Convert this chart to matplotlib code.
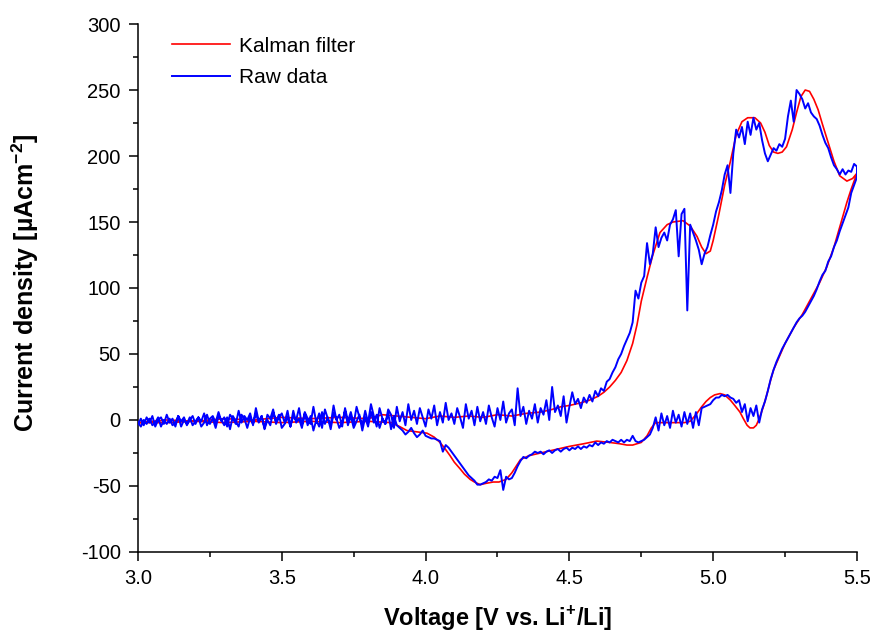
import numpy as np
import matplotlib
matplotlib.use("Agg")
import matplotlib.pyplot as plt
from matplotlib.ticker import MultipleLocator

plt.rcParams["font.family"] = ["Liberation Sans", "DejaVu Sans"]
plt.rcParams["mathtext.fontset"] = "custom"
plt.rcParams["mathtext.rm"] = "Liberation Sans"
plt.rcParams["mathtext.bf"] = "Liberation Sans:bold"
plt.rcParams["axes.unicode_minus"] = False

# ---- measured CV, 10 mV sampling ----
V_START, V_END, V_STEP = 3.0, 5.5, 0.01

# anodic sweep, 3.00 V -> 5.50 V (µA cm^-2)
raw_forward = [
    -3, 1, -4, 2, -2, 3, -5, 0, 2, -3,            # 3.00
    4, -2, 1, -5, 3, -1, 2, -4, 0, 3,             # 3.10
    -3, 2, -1, 5, -4, 1, 3, -2, 6, -1,            # 3.20
    2, -5, 4, 1, -3, 7, -2, 3, 0, 5,              # 3.30
    -4, 9, -1, 3, -6, 4, 1, 8, -3, 2,             # 3.40
    5, -2, 7, -5, 3, 0, 9, -4, 6, 1,              # 3.50
    -3, 10, -2, 5, -6, 8, 1, -4, 11, 0,           # 3.60
    4, -5, 9, -1, 6, -3, 10, 2, -4, 7,            # 3.70
    -2, 12, 3, -5, 9, 1, -3, 8, 4, -6,            # 3.80
    10, -1, 6, -4, 12, 0, 7, -3, 9, 2,            # 3.90
    -5, 8, 1, 11, -4, 6, -2, 13, 0, 5,            # 4.00
    -3, 9, 2, -6, 12, 1, 7, -4, 10, -1,           # 4.10
    6, -3, 11, 2, -5, 9, 0, 14, -2, 5,            # 4.20
    8, -4, 24, 3, 10, -3, 7, 1, 12, -2,           # 4.30
    9, 4, 15, 0, 25, 6, 11, 3, 18, -2,            # 4.40
    10, 21, 12, 16, 9, 17, 13, 19, 14, 22,        # 4.50
    18, 24, 22, 29, 31, 36, 40, 46, 50, 56,       # 4.60
    61, 66, 74, 98, 92, 104, 109, 134, 118, 126,  # 4.70
    146, 131, 138, 142, 136, 148, 152, 159, 124, 156,  # 4.80
    160, 83, 148, 142, 136, 129, 118, 126, 131, 140,   # 4.90
    148, 158, 165, 174, 186, 193, 172, 202, 220, 214,  # 5.00
    222, 209, 226, 216, 229, 220, 225, 212, 202, 196,  # 5.10
    201, 206, 204, 209, 207, 213, 230, 242, 226, 250,  # 5.20
    247, 243, 236, 240, 233, 230, 228, 223, 216, 210,  # 5.30
    206, 199, 193, 190, 186, 190, 186, 189, 188, 194,  # 5.40
    192,                                               # 5.50
]

# cathodic sweep, 5.50 V -> 3.00 V (µA cm^-2)
raw_reverse = [
    184, 178, 172, 161, 155, 149, 143, 136, 131, 124,  # 5.50
    120, 113, 110, 105, 99, 94, 90, 86, 82, 79,        # 5.40
    77, 74, 70, 66, 62, 58, 54, 49, 44, 38,            # 5.30
    31, 22, 14, 8, -2, 11, 3, 9, -1, 12,               # 5.20
    6, 15, 13, 16, 17, 19, 18, 19, 17, 17,             # 5.10
    15, 12, 11, 10, 9, -4, 6, -6, 5, -3,               # 5.00
    6, -5, 4, -2, 7, -6, 3, -4, 5, -8,                 # 4.90
    2, -6, -11, -13, -15, -16, -17, -16, -12, -16,     # 4.80
    -15, -17, -15, -17, -16, -15, -17, -16, -18, -17,  # 4.70
    -19, -17, -20, -19, -21, -20, -22, -20, -22, -21,  # 4.60
    -23, -21, -22, -24, -22, -23, -25, -23, -24, -26,  # 4.50
    -24, -25, -24, -26, -27, -29, -28, -31, -35, -40,  # 4.40
    -44, -45, -43, -53, -38, -44, -43, -46, -45, -47,  # 4.30
    -48, -49, -49, -46, -44, -42, -39, -36, -33, -30,  # 4.20
    -27, -24, -21, -19, -24, -16, -15, -14, -14, -13,  # 4.10
    -12, -8, -11, -13, -10, -6, -9, -11, -8, -6,       # 4.00
    -4, 3, -7, 5, -3, 1, -6, 4, -2, 6,                 # 3.90
    -5, 2, -8, 4, -1, -6, 3, -4, 7, -2,                # 3.80
    -6, 1, 5, -7, 2, -3, 6, -5, 0, -8,                 # 3.70
    3, -4, 5, -6, 1, -2, 7, -5, 2, -3,                 # 3.60
    -6, 4, -1, 6, -4, 0, -7, 3, -2, 5,                 # 3.50
    -3, 2, -6, 1, 4, -5, -1, 3, -7, 2,                 # 3.40
    -4, 0, 3, -6, 1, -3, 4, -2, -5, 2,                 # 3.30
    -1, -4, 2, -3, 0, -5, 3, -2, -4, 1,                # 3.20
    -3, 0, -5, 2, -2, -4, 1, -3, 0, -5,                # 3.10
    -2,                                                # 3.00
]

# Kalman-filtered estimate, anodic branch
kf_forward_v = [3.00, 3.10, 3.20, 3.30, 3.40, 3.50, 3.60, 3.70, 3.80, 3.85,
                3.90, 3.95, 4.00, 4.05, 4.10, 4.15, 4.20, 4.25, 4.30, 4.35,
                4.40, 4.44, 4.47, 4.50, 4.54, 4.57, 4.60, 4.62, 4.64, 4.66,
                4.68, 4.70, 4.72, 4.735, 4.75, 4.77, 4.79, 4.815, 4.84, 4.86,
                4.895, 4.92, 4.944, 4.96, 4.975, 4.99, 5.00, 5.02, 5.04, 5.06,
                5.08, 5.10, 5.12, 5.145, 5.165, 5.18, 5.195, 5.21, 5.225, 5.24,
                5.255, 5.275, 5.29, 5.305, 5.32, 5.335, 5.35, 5.365, 5.38, 5.40,
                5.42, 5.44, 5.465, 5.485, 5.50]
kf_forward_i = [-2, 0, -1, 1, 0, 2, 1, 2, 1, 4,
                3, 2, 1, 3, 2, 3, 2, 4, 3, 5,
                6, 8, 10, 11, 13, 15, 18, 21, 25, 30,
                36, 45, 58, 72, 90, 108, 125, 142, 148, 150,
                151, 147, 139, 131, 126, 128, 136, 156, 178, 196,
                216, 226, 229, 229, 225, 218, 208, 203, 202, 203,
                207, 220, 233, 245, 250, 249, 243, 235, 224, 210,
                196, 185, 181, 183, 187]

# Kalman-filtered estimate, cathodic branch
kf_reverse_v = [5.50, 5.48, 5.465, 5.44, 5.42, 5.395, 5.37, 5.34, 5.31, 5.28,
                5.25, 5.23, 5.21, 5.197, 5.185, 5.173, 5.16, 5.15, 5.14, 5.128,
                5.118, 5.105, 5.093, 5.075, 5.06, 5.04, 5.024, 5.005, 4.99, 4.975,
                4.96, 4.94, 4.92, 4.90, 4.85, 4.80, 4.785, 4.77, 4.75, 4.72,
                4.70, 4.675, 4.64, 4.595, 4.55, 4.50, 4.46, 4.40, 4.36, 4.33,
                4.315, 4.30, 4.28, 4.255, 4.235, 4.21, 4.19, 4.17, 4.155, 4.135,
                4.12, 4.10, 4.085, 4.065, 4.05, 4.03, 4.005, 3.97, 3.935, 3.91,
                3.88, 3.80, 3.70, 3.60, 3.50, 3.40, 3.30, 3.20, 3.10, 3.00]
kf_reverse_i = [187, 175, 165, 146, 131, 116, 104, 92, 80, 70,
                58, 48, 38, 28, 18, 9, 1, -4, -6, -6,
                -4, 1, 6, 11, 15, 19, 20, 19, 17, 14,
                10, 4, -1, -2, -2, -2, -6, -12, -17, -19,
                -19, -18, -17, -16, -18, -20, -22, -25, -27, -30,
                -35, -40, -45, -47, -47, -48, -49, -47, -45, -41,
                -37, -32, -27, -21, -17, -13, -10, -9, -8, -5,
                -2, -1, -2, -1, -2, -1, -2, -1, -2, -2]

n_pts = int(round((V_END - V_START) / V_STEP)) + 1
v_up = np.linspace(V_START, V_END, n_pts)
v_down = v_up[::-1]

raw_v = np.concatenate([v_up, v_down])
raw_i = np.array(raw_forward + raw_reverse, dtype=float)
kf_v = np.array(kf_forward_v + kf_reverse_v)
kf_i = np.array(kf_forward_i + kf_reverse_i, dtype=float)

fig = plt.figure(figsize=(8.75, 6.39), dpi=100)
ax = fig.add_axes([0.1577, 0.1362, 0.8217, 0.8262])

ax.plot(kf_v, kf_i, color="#ff0000", lw=1.2, label="Kalman filter", zorder=2)
ax.plot(raw_v, raw_i, color="#0000ff", lw=1.4, label="Raw data", zorder=3)

ax.set_xlim(3.0, 5.5)
ax.set_ylim(-100, 300)
ax.xaxis.set_major_locator(MultipleLocator(0.5))
ax.xaxis.set_minor_locator(MultipleLocator(0.25))
ax.yaxis.set_major_locator(MultipleLocator(50))
ax.yaxis.set_minor_locator(MultipleLocator(25))
ax.xaxis.set_major_formatter(plt.FormatStrFormatter("%.1f"))

for side in ("top", "right"):
    ax.spines[side].set_visible(False)
for side in ("left", "bottom"):
    ax.spines[side].set_linewidth(1.1)

ax.tick_params(which="major", direction="out", length=6.5, width=1.1,
               labelsize=14.5, pad=6)
ax.tick_params(which="minor", direction="out", length=3.6, width=1.1)

ax.set_xlabel(r"Voltage [V vs. Li$^{\mathbf{+}}$/Li]", fontsize=17,
              fontweight="bold", labelpad=11)
ax.set_ylabel(r"Current density [µAcm$^{\mathbf{-2}}$]", fontsize=18,
              fontweight="bold")
ax.yaxis.set_label_coords(-0.135, 0.51)

ax.legend(loc="upper left", frameon=False, fontsize=15, handlelength=2.8,
          handletextpad=0.4, labelspacing=0.6, borderaxespad=0.2,
          bbox_to_anchor=(0.03, 1.0))

fig.savefig("out.png", dpi=100)
